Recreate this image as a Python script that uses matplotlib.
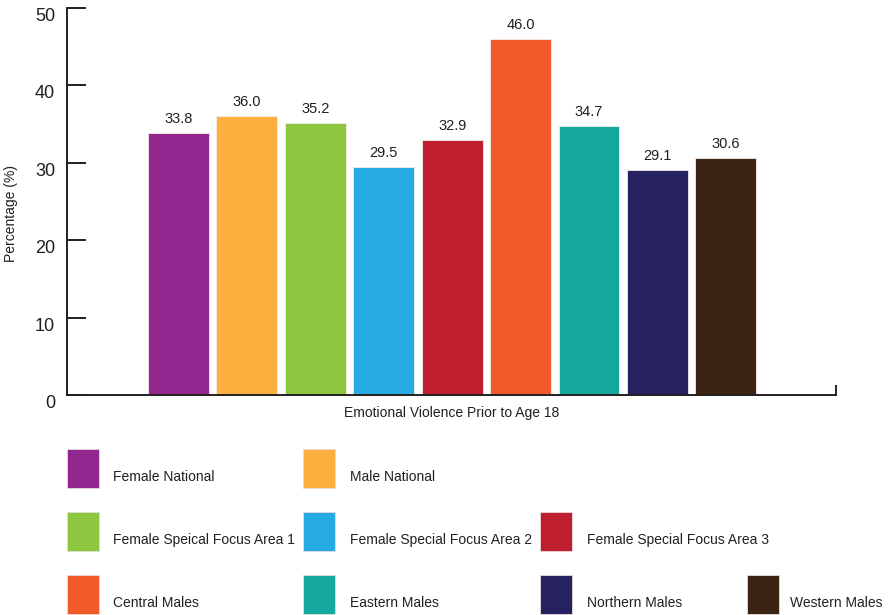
import matplotlib.pyplot as plt
from matplotlib.patches import Rectangle

plt.rcParams['font.family'] = ['Liberation Sans', 'DejaVu Sans']

groups = ["Female National", "Male National", "Female Speical Focus Area 1",
          "Female Special Focus Area 2", "Female Special Focus Area 3",
          "Central Males", "Eastern Males", "Northern Males", "Western Males"]
values = [33.8, 36.0, 35.2, 29.5, 32.9, 46.0, 34.7, 29.1, 30.6]
colors = ["#92278F", "#FBB040", "#8DC63F", "#27AAE1", "#BE1E2D",
          "#F15A2B", "#17A89D", "#262262", "#3C2415"]
yticks = [0, 10, 20, 30, 40, 50]
xlabel = "Emotional Violence Prior to Age 18"

W, H = 890, 615
fig = plt.figure(figsize=(W / 100, H / 100), dpi=100)
ax = fig.add_axes([67 / W, 1 - 395 / H, (836 - 67) / W, (395 - 8) / H])

axis_col = "#231F20"
x = list(range(len(values)))
bars = ax.bar(x, values, width=0.89, color=colors, edgecolor="#f4ece6", linewidth=0.6)
for b, v in zip(bars, values):
    ax.annotate(f"{v:.1f}", (b.get_x() + b.get_width() / 2, v), xytext=(0, 5),
                textcoords="offset points", ha="center", va="bottom", fontsize=10.5,
                color="#231F20")

ax.set_xlim(-1.63, 9.61)
ax.set_ylim(0, 50)
ax.set_yticks(yticks)
ax.set_yticklabels([str(t) for t in yticks], va="top", fontsize=13)
ax.tick_params(axis="y", direction="in", length=13.7, width=1.4, pad=8.5, colors=axis_col)
ax.set_xticks([])
for s in ["top", "right"]:
    ax.spines[s].set_visible(False)
for s in ["left", "bottom"]:
    ax.spines[s].set_color(axis_col)
    ax.spines[s].set_linewidth(1.4)
# small upturned tick at the right end of the baseline
ax.plot([1, 1], [0, 0.026], transform=ax.transAxes, color=axis_col, lw=1.4,
        clip_on=False, solid_capstyle="butt")

ax.set_xlabel(xlabel, fontsize=10, labelpad=8, color="#231F20")
ax.set_ylabel("Percentage (%)", fontsize=10, color="#231F20")
ax.yaxis.set_label_coords(-0.064, 0.47)

# legend laid out as a 3-row grid of swatches
slots = [(0, 0), (0, 1), (1, 0), (1, 1), (1, 2), (2, 0), (2, 1), (2, 2), (2, 3)]
box_x = [67, 303, 540, 747]
text_x = [113, 350, 587, 790]
box_top = [449, 512, 575]
for (r, c), name, col in zip(slots, groups, colors):
    fig.patches.append(Rectangle((box_x[c] / W, 1 - (box_top[r] + 39) / H), 32 / W, 39 / H,
                                 transform=fig.transFigure, facecolor=col,
                                 edgecolor="#e8dcd8", linewidth=0.6))
    fig.text(text_x[c] / W, 1 - (box_top[r] + 28) / H, name, fontsize=10,
             va="center", ha="left", color="#231F20")

fig.savefig("out.png", dpi=100)
